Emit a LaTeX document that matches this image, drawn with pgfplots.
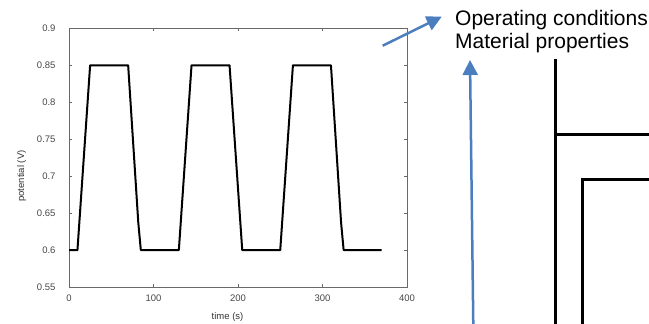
\documentclass[border=0pt]{standalone}
\usepackage{fontspec}
\setmainfont{Liberation Sans}
\usepackage{pgfplots}
\pgfplotsset{compat=1.18}
\usetikzlibrary{arrows.meta}
\definecolor{arrowblue}{RGB}{74,126,190}
\definecolor{axisgrey}{RGB}{105,105,105}
\begin{document}
\begin{tikzpicture}[x=1bp,y=1bp]
\useasboundingbox (0,0) rectangle (649,323);
\clip (0,0) rectangle (649,323);
\begin{axis}[
  at={(69bp,36bp)}, anchor=south west, scale only axis,
  width=338bp, height=258.7bp,
  xmin=0, xmax=400, ymin=0.55, ymax=0.9,
  xtick={0,100,200,300,400},
  ytick={0.55,0.6,0.65,0.7,0.75,0.8,0.85,0.9},
  yticklabels={0.55,0.6,0.65,0.7,0.75,0.8,0.85,0.9},
  /pgf/number format/assume math mode=true,
  tick align=inside, major tick length=3bp,
  tick style={axisgrey, line width=0.6bp},
  axis line style={axisgrey, line width=0.8bp},
  ticklabel style={font=\fontsize{9.5bp}{11bp}\selectfont, text=black!72},
  yticklabel style={xshift=-10bp},
  xticklabel style={yshift=-4.5bp},
  label style={font=\fontsize{9.5bp}{11bp}\selectfont, text=black!80},
  xlabel={time (s)},
  ylabel={potential (V)},
  xlabel style={at={(axis description cs:0.469,-0.116)}, anchor=center},
  ylabel style={at={(axis description cs:-0.140,0.429)}, anchor=center},
  clip=false,
]
\addplot[black, line width=2bp, line join=round] coordinates {
  (0,0.6) (10,0.6) (25,0.85) (70,0.85) (82,0.637) (85,0.6)
  (130,0.6) (145,0.85) (190,0.85) (205,0.6)
  (250,0.6) (265,0.85) (310,0.85) (322,0.637) (325,0.6) (370,0.6)
};
\end{axis}
% blue arrows
\draw[arrowblue, line width=2.5bp, -{Triangle[length=15bp,width=15bp]}] (382.7,277.3) -- (441.7,306.3);
\draw[arrowblue, line width=2.5bp, -{Triangle[length=15bp,width=15bp]}] (473.3,-2) -- (470,263);
% text
\node[anchor=base west, inner sep=0pt, font=\fontsize{21bp}{23bp}\selectfont] at (455,298) {Operating conditions};
\node[anchor=base west, inner sep=0pt, font=\fontsize{21bp}{23bp}\selectfont] at (455,275) {Material properties};
% black lines
\draw[black, line width=3bp] (555,-2) -- (555,263.7);
\draw[black, line width=3bp] (555,188.7) -- (652,188.7);
\draw[black, line width=3bp] (582.5,-2) -- (582.5,144) -- (652,144);
\end{tikzpicture}
\end{document}
